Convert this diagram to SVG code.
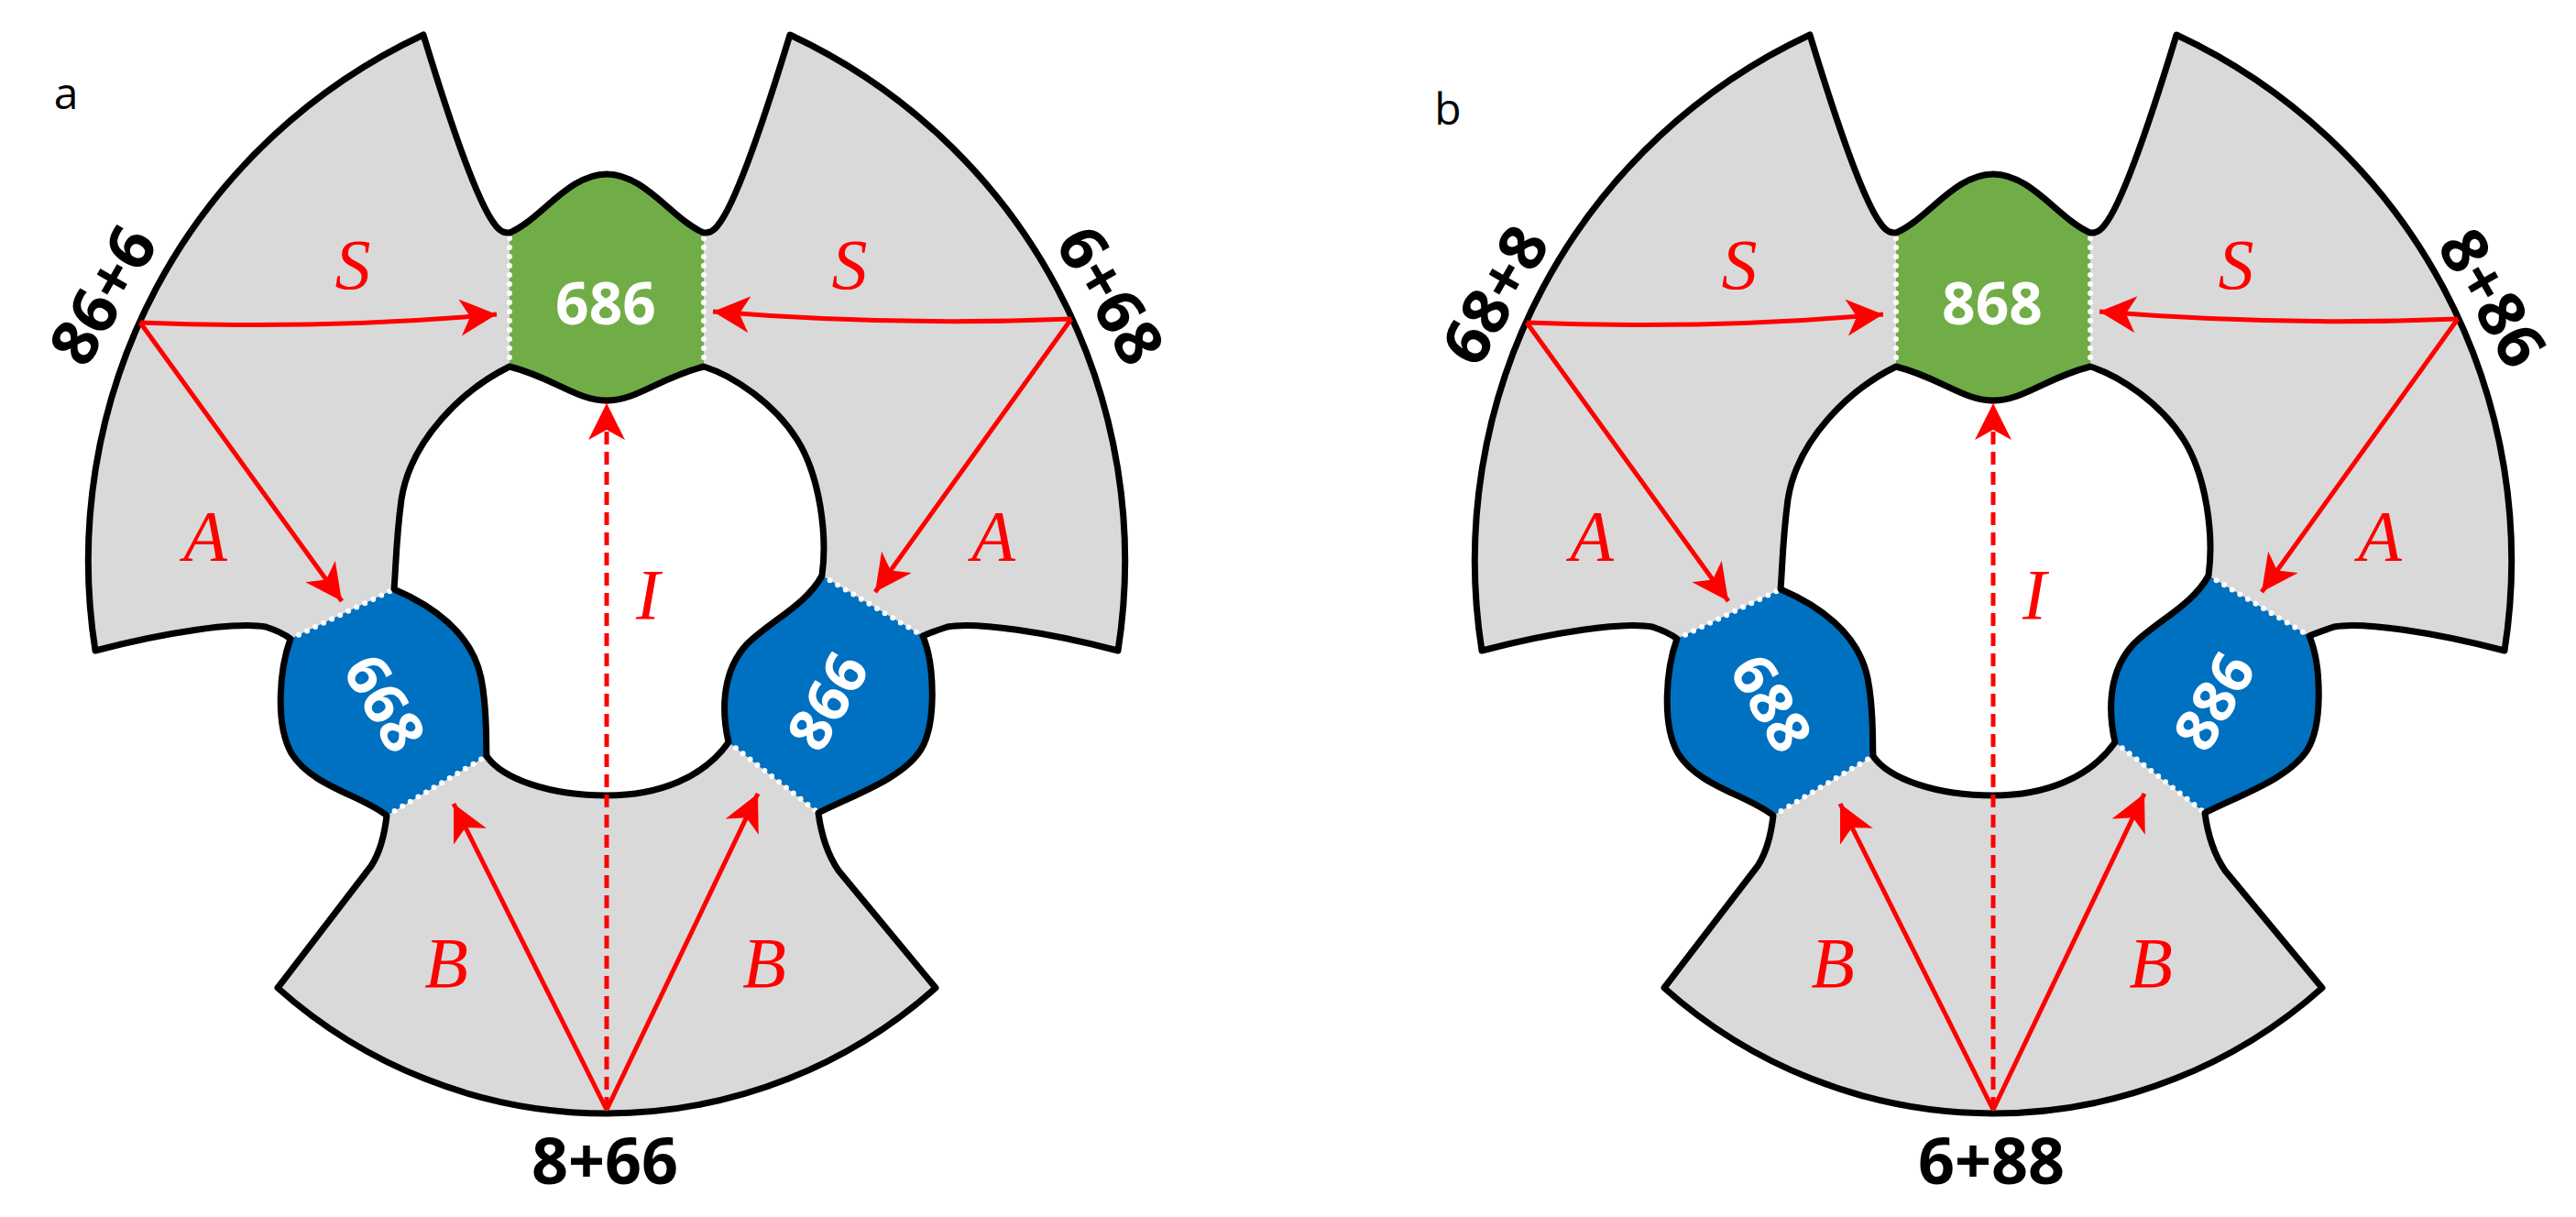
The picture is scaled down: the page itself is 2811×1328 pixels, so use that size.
<svg xmlns="http://www.w3.org/2000/svg" width="2811" height="1328" viewBox="0 0 2811 1328">
<style>
.bg{fill:#fff}
.gray{fill:#d9d9d9;stroke:none}
.outline{fill:none;stroke:#000;stroke-width:7;stroke-linejoin:round}
.green{fill:#70ad47}
.blue{fill:#0070c0}
.dots{fill:none;stroke:#fff;stroke-width:6;stroke-linecap:round;stroke-dasharray:0 10}
.ntxt{font-family:"Open Sans","Noto Sans","Liberation Sans",sans-serif;font-weight:bold;font-size:64px;fill:#fff;text-anchor:middle}
.lbl{font-family:"Open Sans","Noto Sans","Liberation Sans",sans-serif;font-weight:bold;font-size:70px;fill:#000;text-anchor:middle}
.rl{font-family:"Liberation Serif","Times New Roman",serif;font-style:italic;font-size:78px;fill:#f00;text-anchor:middle}
.arr{fill:none;stroke:#f00;stroke-width:5;marker-end:url(#ah)}
.dash{stroke-dasharray:14 8}
.panel{font-family:"Open Sans","Liberation Sans",sans-serif;font-size:48px;fill:#000;text-anchor:middle}
</style>
<defs>
<marker id="ah" markerUnits="userSpaceOnUse" markerWidth="46" markerHeight="44" refX="40" refY="20" orient="auto"><path d="M0,0 L40,20 L0,40 L11,20 Z" fill="#f00"/></marker>
<path id="body" fill-rule="evenodd" d="M104,710 A633,633 0 0 1 462,38 C490,130 520,220 540,245 Q547,255 556,254 C590,240 620,190 662,190 C704,190 734,240 768,254 Q777,255 784,245 C804,220 834,130 862,38 A633,633 0 0 1 1220,710 C1144,690 1064,678 1034,684 Q1016,690 1007,694 C1020,725 1022,790 1005,818 C985,850 930,868 893,887 Q898,925 915,950 L1021,1078 A539,539 0 0 1 303,1078 L405,945 Q418,925 422,890 C395,868 340,858 318,822 C300,790 305,730 317,697 Q308,690 290,684 C260,678 180,690 104,710 Z M556,400 C505,425 448,480 438,545 C432,590 432,620 430,643 C470,660 515,690 525,740 C532,775 530,805 531,825 C548,850 600,868 662,868 C720,868 768,848 795,810 C786,770 790,730 815,703 C840,678 880,660 897,628 C903,585 895,520 870,480 C845,440 800,410 768,400 C720,412 695,437 662,437 C629,437 604,412 556,400 Z"/>
<path id="gshape" d="M556,254 C590,240 620,190 662,190 C704,190 734,240 768,254 L768,400 C720,412 695,437 662,437 C629,437 604,412 556,400 Z"/>
<path id="blshape" d="M317,697 L430,643 C470,660 515,690 525,740 C532,775 530,805 531,825 L422,890 C395,868 340,858 318,822 C300,790 305,730 317,697 Z"/>
<path id="brshape" d="M897,628 L1007,694 C1020,725 1022,790 1005,818 C985,850 930,868 893,887 L795,810 C786,770 790,730 815,703 C840,678 880,660 897,628 Z"/>
</defs>
<rect class="bg" x="0" y="0" width="2811" height="1328"/>

<g id="panel-a">
<text class="panel" x="72" y="119">a</text>
<use href="#body" class="gray"/>
<g id="node-686">
<use href="#gshape" class="green"/>
<path class="dots" d="M556,260 L556,396 M768,260 L768,396"/>
<text class="ntxt" x="661" y="354">686</text>
</g>
<g id="node-668">
<use href="#blshape" class="blue"/>
<path class="dots" d="M317,697 L430,643 M422,890 L531,825"/>
<text class="ntxt" transform="translate(420,767) rotate(60)" x="0" y="23">668</text>
</g>
<g id="node-866">
<use href="#brshape" class="blue"/>
<path class="dots" d="M897,628 L1007,694 M795,810 L893,887"/>
<text class="ntxt" transform="translate(903,765) rotate(-60)" x="0" y="23">866</text>
</g>
<use href="#body" class="outline"/>
<g id="connectors-a">
<path class="arr" d="M153,352 Q350,360 542,343"/>
<path class="arr" d="M1169,348 Q975,356 778,340"/>
<path class="arr" d="M153,352 L373,656"/>
<path class="arr" d="M1169,348 L955,646"/>
<path class="arr" d="M662,1211 L495,877"/>
<path class="arr" d="M662,1211 L827,866"/>
<path class="arr dash" d="M662,1211 L662,440"/>
</g>
<g id="labels-a">
<text class="rl" x="385" y="315">S</text>
<text class="rl" x="927" y="315">S</text>
<text class="rl" x="224" y="611">A</text>
<text class="rl" x="1084" y="611">A</text>
<text class="rl" x="707" y="675">I</text>
<text class="rl" x="487" y="1077">B</text>
<text class="rl" x="834" y="1077">B</text>
<text class="lbl" transform="translate(112,322) rotate(-60)" x="0" y="25">86+6</text>
<text class="lbl" transform="translate(1212,322) rotate(60)" x="0" y="25">6+68</text>
<text class="lbl" x="660" y="1292">8+66</text>
</g>
</g>

<g id="panel-b" transform="translate(1513,0)">
<text class="panel" x="67" y="136">b</text>
<use href="#body" class="gray"/>
<g id="node-868">
<use href="#gshape" class="green"/>
<path class="dots" d="M556,260 L556,396 M768,260 L768,396"/>
<text class="ntxt" x="661" y="354">868</text>
</g>
<g id="node-688">
<use href="#blshape" class="blue"/>
<path class="dots" d="M317,697 L430,643 M422,890 L531,825"/>
<text class="ntxt" transform="translate(420,767) rotate(60)" x="0" y="23">688</text>
</g>
<g id="node-886">
<use href="#brshape" class="blue"/>
<path class="dots" d="M897,628 L1007,694 M795,810 L893,887"/>
<text class="ntxt" transform="translate(903,765) rotate(-60)" x="0" y="23">886</text>
</g>
<use href="#body" class="outline"/>
<g id="connectors-b">
<path class="arr" d="M153,352 Q350,360 542,343"/>
<path class="arr" d="M1169,348 Q975,356 778,340"/>
<path class="arr" d="M153,352 L373,656"/>
<path class="arr" d="M1169,348 L955,646"/>
<path class="arr" d="M662,1211 L495,877"/>
<path class="arr" d="M662,1211 L827,866"/>
<path class="arr dash" d="M662,1211 L662,440"/>
</g>
<g id="labels-b">
<text class="rl" x="385" y="315">S</text>
<text class="rl" x="927" y="315">S</text>
<text class="rl" x="224" y="611">A</text>
<text class="rl" x="1084" y="611">A</text>
<text class="rl" x="707" y="675">I</text>
<text class="rl" x="487" y="1077">B</text>
<text class="rl" x="834" y="1077">B</text>
<text class="lbl" transform="translate(118,322) rotate(-60)" x="0" y="25">68+8</text>
<text class="lbl" transform="translate(1207,325) rotate(60)" x="0" y="25">8+86</text>
<text class="lbl" x="660" y="1292">6+88</text>
</g>
</g>
</svg>
